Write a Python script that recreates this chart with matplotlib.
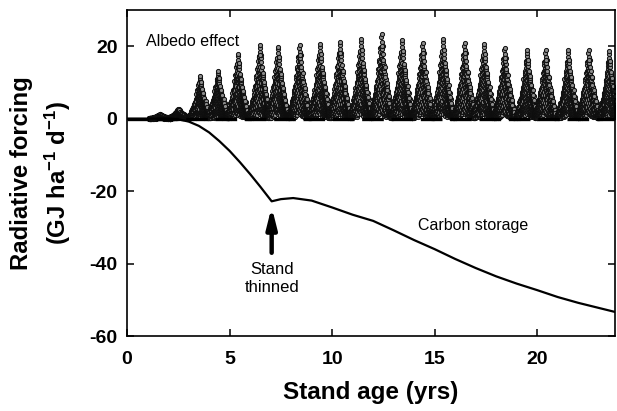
"""Radiative forcing of albedo vs carbon storage over stand age."""

import matplotlib
matplotlib.use("Agg")
import matplotlib.pyplot as plt

plt.rcParams["font.family"] = ["Liberation Sans", "DejaVu Sans"]
plt.rcParams["axes.unicode_minus"] = False
plt.rcParams["mathtext.fontset"] = "custom"
plt.rcParams["mathtext.rm"] = "Liberation Sans:bold"
plt.rcParams["mathtext.it"] = "Liberation Sans:bold"
plt.rcParams["mathtext.bf"] = "Liberation Sans:bold"

# carbon storage curve (stand age, forcing)
carbon_age = [0, 1, 2, 2.5, 3, 3.5, 4, 4.5, 5, 5.5, 6, 6.5, 7.05, 7.5, 8.1, 9, 10,
              11, 12, 13, 14, 15, 16, 17, 18, 19, 20, 21, 22, 23, 24]
carbon_rf = [0, 0, 0, -0.2, -0.8, -2.0, -3.8, -6.2, -8.9, -12.0, -15.3, -18.8, -22.8,
             -22.2, -21.9, -22.6, -24.5, -26.5, -28.2, -30.8, -33.5, -36.0, -38.7,
             -41.2, -43.5, -45.5, -47.3, -49.2, -50.8, -52.2, -53.6]

# albedo effect: seasonal peak position and height for each year
albedo_peak_age = [1.6, 2.5, 3.55, 4.43, 5.4, 6.47, 7.35, 8.4, 9.4, 10.37, 11.4, 12.4,
                   13.4, 14.4, 15.4, 16.45, 17.4, 18.4, 19.5, 20.4, 21.5, 22.5, 23.5]
albedo_peak_rf = [1.3, 2.8, 12.0, 13.3, 18.3, 20.8, 20.3, 20.8, 21.1, 21.7, 22.5, 23.9,
                  22.2, 21.4, 22.5, 21.4, 21.1, 20.0, 19.4, 19.2, 19.2, 19.2, 18.9]

# shape of one seasonal hump (offset in years, fraction of peak)
hump_dt = [-0.5, -0.45, -0.4, -0.35, -0.3, -0.25, -0.2, -0.15, -0.1, -0.05, 0,
           0.05, 0.1, 0.15, 0.2, 0.25, 0.3, 0.35, 0.4, 0.45, 0.5]
hump_frac = [0.08, 0.12, 0.17, 0.23, 0.3, 0.38, 0.47, 0.57, 0.68, 0.82, 1.0,
             0.84, 0.7, 0.6, 0.5, 0.41, 0.33, 0.26, 0.19, 0.13, 0.09]
# fill levels within a day column, with a small stagger for texture
fill_levels = [0.08, 0.13, 0.18, 0.24, 0.3, 0.36, 0.43, 0.5, 0.57, 0.64,
               0.71, 0.78, 0.85, 0.91, 0.96, 1.0]
stagger = [0, 0.03, -0.02, 0.04, -0.03, 0.01, -0.04, 0.02]
x_shift = [0.0, 0.018, -0.012, 0.024, -0.02, 0.008, -0.006, 0.014, -0.016]

xs, ys = [], []
for age, peak in zip(albedo_peak_age, albedo_peak_rf):
    for i, (dt, fr) in enumerate(zip(hump_dt, hump_frac)):
        s = stagger[i % len(stagger)]
        for k, lv in enumerate(fill_levels):
            xs.append(age + dt + x_shift[(i + k) % len(x_shift)])
            ys.append(peak * fr * min(1.0, max(0.0, lv + s)))

fig, ax = plt.subplots(figsize=(6.17, 4.11), dpi=100)
fig.subplots_adjust(left=0.206, right=0.997, top=0.976, bottom=0.182)

ax.plot(xs, ys, "o", ms=3.0, mec="0.05", mfc="0.55", mew=0.7, zorder=2)
ax.plot([0, 24], [0, 0], color="black", lw=2.4, dashes=(6.5, 2.3), zorder=3)
ax.plot(carbon_age, carbon_rf, color="black", lw=1.6, zorder=4)

ax.text(0.9, 21.4, "Albedo effect", fontsize=11.5, va="center", ha="left")
ax.text(16.85, -29.6, "Carbon storage", fontsize=11.5, va="center", ha="center")
ax.text(7.05, -44.2, "Stand\nthinned", fontsize=12, va="center", ha="center",
        linespacing=1.25)
ax.annotate("", xy=(7.05, -24.3), xytext=(7.05, -37.0),
            arrowprops=dict(arrowstyle="-|>,head_width=0.3,head_length=1.2",
                            lw=3.2, color="black", shrinkA=0, shrinkB=0))

ax.set_xlim(0, 23.8)
ax.set_ylim(-60, 30)
ax.set_xticks([0, 5, 10, 15, 20])
ax.set_yticks([-60, -40, -20, 0, 20])
ax.tick_params(direction="in", top=True, right=True, length=5, width=1.1,
               labelsize=14)
ax.tick_params(axis="x", pad=11)
ax.tick_params(axis="y", pad=7)
for lab in ax.get_xticklabels() + ax.get_yticklabels():
    lab.set_fontweight("bold")
for sp in ax.spines.values():
    sp.set_linewidth(1.2)

ax.set_xlabel("Stand age (yrs)", fontsize=17.5, fontweight="bold", labelpad=9)
ax.set_ylabel("Radiative forcing\n(GJ ha$^{-1}$ d$^{-1}$)", fontsize=17.2,
              fontweight="bold", labelpad=12, linespacing=1.4)

fig.savefig("out.png", dpi=100)
